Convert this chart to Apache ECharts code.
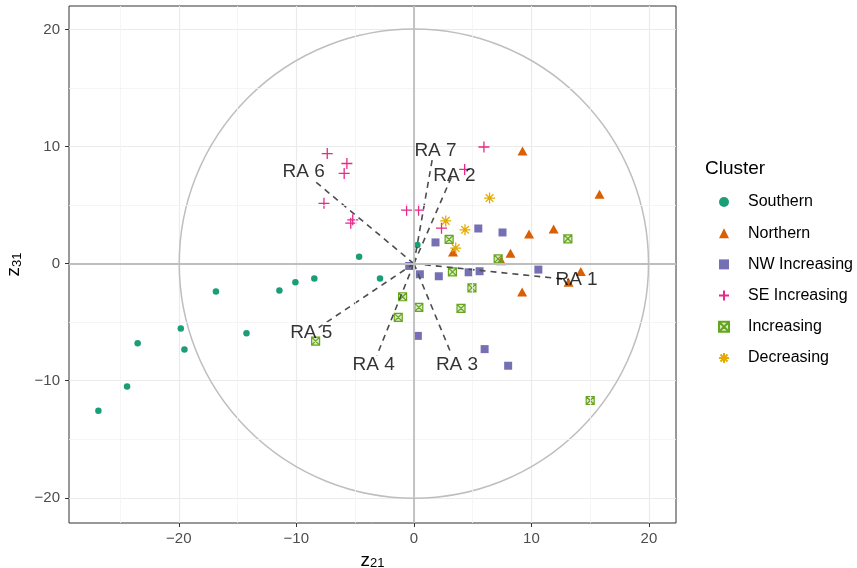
<!DOCTYPE html>
<html>
<head>
<meta charset="utf-8">
<script src="https://cdn.jsdelivr.net/npm/echarts@6/dist/echarts.min.js"></script>
<style>
html,body{margin:0;padding:0;background:#fff;}
#main{width:857px;height:568px;}
</style>
</head>
<body>
<div id="main"></div>
<script>
// 各聚类的得分点 [z21, z31]
var southern = [[-26.84,-12.57],[-24.4,-10.5],[-23.5,-6.79],[-19.83,-5.55],[-19.52,-7.33],[-16.84,-2.38],[-14.24,-5.95],[-11.44,-2.29],[-10.08,-1.6],[-8.47,-1.27],[-4.66,0.59],[-2.88,-1.27],[0.3,1.58]];
var northern = [[9.24,9.62],[15.79,5.92],[11.89,2.95],[9.8,2.52],[8.22,0.88],[3.33,0.99],[7.43,0.25],[14.2,-0.68],[13.16,-1.59],[9.21,-2.43]];
var nwIncreasing = [[-0.4,-0.2],[0.51,-0.91],[2.12,-1.08],[4.66,-0.74],[5.59,-0.65],[10.59,-0.51],[1.84,1.81],[5.48,3.0],[7.54,2.66],[0.34,-6.17],[6.02,-7.3],[8.02,-8.72]];
var seIncreasing = [[-7.37,9.4],[-5.7,8.55],[-5.93,7.7],[-7.65,5.15],[-5.2,3.74],[-5.37,3.45],[-0.62,4.56],[0.4,4.56],[2.35,3.03],[5.96,9.96],[4.32,8.04]];
var increasing = [[13.1,2.12],[15.0,-11.69],[3.0,2.07],[7.17,0.4],[3.28,-0.7],[4.94,-2.07],[4.01,-3.82],[0.42,-3.74],[-0.96,-2.83],[-1.33,-4.59],[-8.36,-6.62]];
var decreasing = [[6.44,5.6],[2.71,3.65],[4.35,2.89],[3.56,1.33]];

// 载荷箭头终点与标签位置
var raNames = ['RA 1','RA 2','RA 3','RA 4','RA 5','RA 6','RA 7'];
var raEnds = [[13.2,-1.36],[3.2,7.4],[3.19,-7.73],[-3.16,-7.87],[-8.1,-5.46],[-8.5,7.1],[1.6,9.1]];
var raLabels = [[13.84,-1.39],[3.45,7.5],[3.67,-8.66],[-3.42,-8.66],[-8.73,-5.92],[-9.38,7.84],[1.84,9.62]];

var circleR = 20;
var majorTicks = [-20,-10,0,10,20];
var minorTicks = [-25,-15,-5,5,15];
var clusterNames = ['Southern','Northern','NW Increasing','SE Increasing','Increasing','Decreasing'];

var colors = ['#1B9E77','#D95F02','#7570B3','#E7298A','#66A61E','#E6AB02'];
var plusPath = 'path://M0,5L10,5M5,0L5,10';
var boxXPath = 'path://M0,0L10,0L10,10L0,10ZM0,0L10,10M0,10L10,0';
var starPath = 'path://M0,5L10,5M5,0L5,10M1.5,1.5L8.5,8.5M1.5,8.5L8.5,1.5';

function fmt(v){
	return v < 0 ? '\u2212' + (-v) : '' + v;
}

var myChart = echarts.init(document.getElementById('main'));

// 次网格线
var minorLines = [];
for(var i=0;i<minorTicks.length;i++){
	minorLines.push({xAxis:minorTicks[i]});
	minorLines.push({yAxis:minorTicks[i]});
}
var labelData = [];
for(var i=0;i<raNames.length;i++){
	labelData.push({name:raNames[i], value:raLabels[i]});
}
var segData = [];
for(var i=0;i<raEnds.length;i++){
	segData.push({coords:[[0,0],raEnds[i]]});
}

var option = {
	animation:false,
	backgroundColor:'#fff',
	textStyle:{fontFamily:'Liberation Sans, Arial, sans-serif'},
	title:{
		text:'Cluster', left:700, top:154,
		textStyle:{fontSize:19, fontWeight:'normal', color:'#000'}
	},
	legend:{
		orient:'vertical', left:713, top:189,
		itemWidth:10, itemHeight:10, itemGap:15.2,
		textStyle:{fontSize:16, color:'#000', lineHeight:16, padding:[0,0,0,14]},
		data:clusterNames
	},
	grid:{left:69, right:181, top:6, bottom:45, outerBoundsMode:'none', containLabel:false,
		show:true, borderColor:'#333333', borderWidth:1},
	xAxis:{
		type:'value', min:-29.34, max:22.3,
		name:'{z|z}{s|21}', nameLocation:'middle', nameGap:23,
		nameTextStyle:{rich:{
			z:{fontSize:19, color:'#000', verticalAlign:'bottom', lineHeight:22},
			s:{fontSize:13, color:'#000', verticalAlign:'bottom', lineHeight:14}
		}},
		axisLine:{show:false, onZero:false},
		axisTick:{customValues:majorTicks, length:4, lineStyle:{color:'#333'}},
		axisLabel:{customValues:majorTicks, color:'#4D4D4D', fontSize:15, margin:8, formatter:fmt},
		splitLine:{show:true, lineStyle:{color:'#EBEBEB', width:1.2}}
	},
	yAxis:{
		type:'value', min:-22.15, max:22.0,
		name:'{z|z}{s|31}', nameLocation:'middle', nameGap:44,
		nameTextStyle:{rich:{
			z:{fontSize:19, color:'#000', verticalAlign:'bottom', lineHeight:22},
			s:{fontSize:13, color:'#000', verticalAlign:'bottom', lineHeight:14}
		}},
		axisLine:{show:false, onZero:false},
		axisTick:{customValues:majorTicks, length:4, lineStyle:{color:'#333'}},
		axisLabel:{customValues:majorTicks, color:'#4D4D4D', fontSize:15, margin:9, formatter:fmt},
		splitLine:{show:true, lineStyle:{color:'#EBEBEB', width:1.2}}
	},
	series:[
		{
			type:'scatter', z:1, silent:true, data:[],
			markLine:{
				silent:true, symbol:'none', label:{show:false},
				lineStyle:{color:'#F3F3F3', width:0.8, type:'solid'},
				data:minorLines
			}
		},
		{
			// 参考圆
			type:'custom', silent:true, z:2,
			renderItem:function(params, api){
				var c = api.coord([0,0]);
				var s = api.size([circleR, circleR]);
				return {
					type:'circle',
					shape:{cx:c[0], cy:c[1], r:(s[0]+s[1])/2},
					style:{fill:'none', stroke:'#BEBEBE', lineWidth:1.5}
				};
			},
			data:[[0,0]],
			markLine:{
				silent:true, symbol:'none', label:{show:false},
				lineStyle:{color:'#BEBEBE', width:1.8, type:'solid'},
				data:[{xAxis:0},{yAxis:0}]
			}
		},
		{name:'Southern', type:'scatter', z:3, symbol:'circle', symbolSize:6.5, itemStyle:{color:colors[0], opacity:1}, data:southern},
		{name:'Northern', type:'scatter', z:3, symbol:'triangle', symbolSize:[10,9], itemStyle:{color:colors[1], opacity:1}, data:northern},
		{name:'NW Increasing', type:'scatter', z:3, symbol:'rect', symbolSize:8, itemStyle:{color:colors[2], opacity:1}, data:nwIncreasing},
		{name:'SE Increasing', type:'scatter', z:3, symbol:plusPath, symbolSize:11,
			itemStyle:{color:'transparent', borderColor:colors[3], borderWidth:1.3, opacity:1}, data:seIncreasing},
		{name:'Increasing', type:'scatter', z:3, symbol:boxXPath, symbolSize:8,
			itemStyle:{color:'rgba(102,166,30,0.25)', borderColor:colors[4], borderWidth:1.2, opacity:1}, data:increasing},
		{name:'Decreasing', type:'scatter', z:3, symbol:starPath, symbolSize:11,
			itemStyle:{color:'transparent', borderColor:colors[5], borderWidth:1.3, opacity:1}, data:decreasing},
		{
			// 载荷线
			type:'lines', coordinateSystem:'cartesian2d', z:4, silent:true,
			lineStyle:{color:'#4D4D4D', width:1.6, type:[6,5], opacity:1},
			data:segData
		},
		{
			type:'scatter', z:5, silent:true, symbolSize:0,
			label:{show:true, position:'inside', formatter:'{b}', fontSize:19, color:'#000'},
			data:labelData
		}
	]
};

myChart.setOption(option);
</script>
</body>
</html>
